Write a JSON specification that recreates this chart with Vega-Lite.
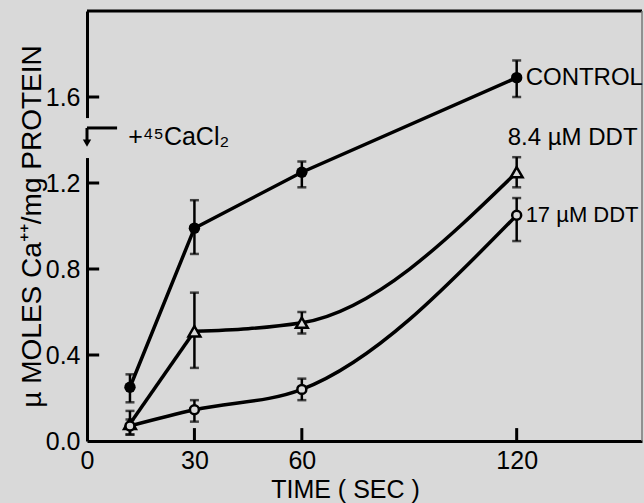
{
  "$schema": "https://vega.github.io/schema/vega-lite/v6.json",
  "description": "Ca++ uptake over time, control vs DDT",
  "width": 555,
  "height": 430,
  "autosize": "none",
  "padding": {"left": 87, "top": 11, "right": 2, "bottom": 62},
  "background": "#d9d9d9",
  "config": {
    "view": {"stroke": null},
    "font": "Liberation Sans",
    "axis": {
      "domainColor": "black",
      "domainWidth": 3,
      "ticks": false,
      "labelColor": "black",
      "titleColor": "black",
      "labelFont": "Liberation Sans",
      "titleFont": "Liberation Sans",
      "labelFontSize": 25,
      "titleFontSize": 26,
      "titleFontWeight": "normal",
      "labelOverlap": false,
      "grid": false
    }
  },
  "datasets": {
    "pts": [
      {"series": "control", "t": 12, "y": 0.25, "lo": 0.18, "hi": 0.31},
      {"series": "control", "t": 30, "y": 0.99, "lo": 0.87, "hi": 1.12},
      {"series": "control", "t": 60, "y": 1.25, "lo": 1.18, "hi": 1.30},
      {"series": "control", "t": 120, "y": 1.69, "lo": 1.60, "hi": 1.77},
      {"series": "ddt84", "t": 12, "y": 0.08, "lo": 0.03, "hi": 0.14},
      {"series": "ddt84", "t": 30, "y": 0.51, "lo": 0.34, "hi": 0.69},
      {"series": "ddt84", "t": 60, "y": 0.55, "lo": 0.50, "hi": 0.60},
      {"series": "ddt84", "t": 120, "y": 1.25, "lo": 1.18, "hi": 1.32},
      {"series": "ddt17", "t": 12, "y": 0.07, "lo": 0.03, "hi": 0.10},
      {"series": "ddt17", "t": 30, "y": 0.145, "lo": 0.09, "hi": 0.19},
      {"series": "ddt17", "t": 60, "y": 0.24, "lo": 0.19, "hi": 0.29},
      {"series": "ddt17", "t": 120, "y": 1.05, "lo": 0.93, "hi": 1.13}
    ],
    "labels": [
      {"text": "CONTROL", "t": 122.5, "y": 1.69},
      {"text": "8.4 µM DDT", "t": 117.5, "y": 1.41}
    ],
    "labels17": [
      {"text": "17 µM DDT", "t": 122.5, "y": 1.05}
    ],
    "frameTop": [{"t": 0, "t2": 155, "y": 2}],
    "frameRight": [{"t": 155, "y": 0, "y2": 2}],
    "gap": [{"t": 0, "y": 1.316, "y2": 1.502}],
    "arrowH": [{"t": 0, "t2": 8.4, "y": 1.456}],
    "arrowV": [{"t": 0, "y": 1.456, "y2": 1.39}],
    "arrowHead": [{"t": 0, "y": 1.385}],
    "note": [{"text": "+⁴⁵CaCl₂", "t": 11.5, "y": 1.377}],
    "yTicks": [
      {"t": 0, "t2": 3.4, "y": 0.4},
      {"t": 0, "t2": 3.4, "y": 0.8},
      {"t": 0, "t2": 3.4, "y": 1.2},
      {"t": 0, "t2": 3.4, "y": 1.6}
    ],
    "xTicks": [
      {"t": 30, "y": 0, "y2": 0.06},
      {"t": 60, "y": 0, "y2": 0.06},
      {"t": 120, "y": 0, "y2": 0.06}
    ]
  },
  "encoding": {
    "x": {
      "field": "t",
      "type": "quantitative",
      "scale": {"domain": [0, 155], "nice": false},
      "axis": {
        "values": [0, 30, 60, 120],
        "format": "d",
        "labelPadding": 7,
        "labelFlush": false,
        "title": "TIME ( SEC )",
        "titleFontSize": 25,
        "titleX": 258,
        "titleY": 48,
        "titleAlign": "center",
        "titleBaseline": "middle"
      }
    },
    "y": {
      "field": "y",
      "type": "quantitative",
      "scale": {"domain": [0, 2], "nice": false},
      "axis": {
        "values": [0, 0.4, 0.8, 1.2, 1.6],
        "format": ".1f",
        "labelPadding": 7,
        "labelFlush": false,
        "title": "µ MOLES Ca⁺⁺/mg PROTEIN",
        "titleFontSize": 28,
        "titleX": -55,
        "titleY": 215,
        "titleAngle": -90,
        "titleAlign": "center",
        "titleBaseline": "middle"
      }
    }
  },
  "layer": [
    {
      "data": {"name": "frameTop"},
      "mark": {"type": "rule", "color": "black", "strokeWidth": 3},
      "encoding": {"x2": {"field": "t2"}}
    },
    {
      "data": {"name": "frameRight"},
      "mark": {"type": "rule", "color": "#777777", "strokeWidth": 1.5},
      "encoding": {"y2": {"field": "y2"}}
    },
    {
      "data": {"name": "gap"},
      "mark": {"type": "rule", "color": "#d9d9d9", "strokeWidth": 8},
      "encoding": {"y2": {"field": "y2"}}
    },
    {
      "data": {"name": "arrowH"},
      "mark": {"type": "rule", "color": "black", "strokeWidth": 3},
      "encoding": {"x2": {"field": "t2"}}
    },
    {
      "data": {"name": "arrowV"},
      "mark": {"type": "rule", "color": "black", "strokeWidth": 3},
      "encoding": {"y2": {"field": "y2"}}
    },
    {
      "data": {"name": "arrowHead"},
      "mark": {"type": "point", "shape": "triangle-down", "filled": true, "color": "black", "size": 70, "opacity": 1}
    },
    {
      "data": {"name": "note"},
      "mark": {"type": "text", "align": "left", "baseline": "alphabetic", "fontSize": 25, "color": "black", "font": "Liberation Sans"},
      "encoding": {"text": {"field": "text"}}
    },
    {
      "data": {"name": "yTicks"},
      "mark": {"type": "rule", "color": "black", "strokeWidth": 3},
      "encoding": {"x2": {"field": "t2"}}
    },
    {
      "data": {"name": "xTicks"},
      "mark": {"type": "rule", "color": "black", "strokeWidth": 3},
      "encoding": {"y2": {"field": "y2"}}
    },
    {
      "data": {"name": "pts"},
      "transform": [{"filter": "datum.series == 'control'"}],
      "mark": {"type": "line", "color": "black", "strokeWidth": 3.5},
      "encoding": {"order": {"field": "t"}}
    },
    {
      "data": {"name": "pts"},
      "transform": [{"filter": "datum.series == 'ddt84' && datum.t <= 30"}],
      "mark": {"type": "line", "color": "black", "strokeWidth": 3.5},
      "encoding": {"order": {"field": "t"}}
    },
    {
      "data": {"name": "pts"},
      "transform": [{"filter": "datum.series == 'ddt84' && datum.t >= 30"}],
      "mark": {"type": "line", "color": "black", "strokeWidth": 3.5, "interpolate": "monotone"},
      "encoding": {"order": {"field": "t"}}
    },
    {
      "data": {"name": "pts"},
      "transform": [{"filter": "datum.series == 'ddt17'"}],
      "mark": {"type": "line", "color": "black", "strokeWidth": 3.5, "interpolate": "monotone"},
      "encoding": {"order": {"field": "t"}}
    },
    {
      "data": {"name": "pts"},
      "mark": {
        "type": "errorbar",
        "color": "black",
        "ticks": {"size": 9, "thickness": 2.5, "color": "black"},
        "rule": {"strokeWidth": 2.5, "color": "black"}
      },
      "encoding": {
        "y": {"field": "lo", "type": "quantitative"},
        "y2": {"field": "hi"}
      }
    },
    {
      "data": {"name": "pts"},
      "transform": [{"filter": "datum.series == 'control'"}],
      "mark": {"type": "circle", "color": "black", "size": 130, "opacity": 1}
    },
    {
      "data": {"name": "pts"},
      "transform": [{"filter": "datum.series == 'ddt84'"}],
      "mark": {"type": "point", "shape": "triangle-up", "fill": "#d9d9d9", "stroke": "black", "strokeWidth": 2.5, "size": 140, "opacity": 1, "filled": false, "fillOpacity": 1}
    },
    {
      "data": {"name": "pts"},
      "transform": [{"filter": "datum.series == 'ddt17'"}],
      "mark": {"type": "point", "shape": "circle", "fill": "#d9d9d9", "stroke": "black", "strokeWidth": 2.5, "size": 80, "opacity": 1, "fillOpacity": 1}
    },
    {
      "data": {"name": "labels"},
      "mark": {"type": "text", "align": "left", "baseline": "middle", "fontSize": 24, "color": "black", "font": "Liberation Sans"},
      "encoding": {"text": {"field": "text"}}
    },
    {
      "data": {"name": "labels17"},
      "mark": {"type": "text", "align": "left", "baseline": "middle", "fontSize": 22, "color": "black", "font": "Liberation Sans"},
      "encoding": {"text": {"field": "text"}}
    }
  ]
}
